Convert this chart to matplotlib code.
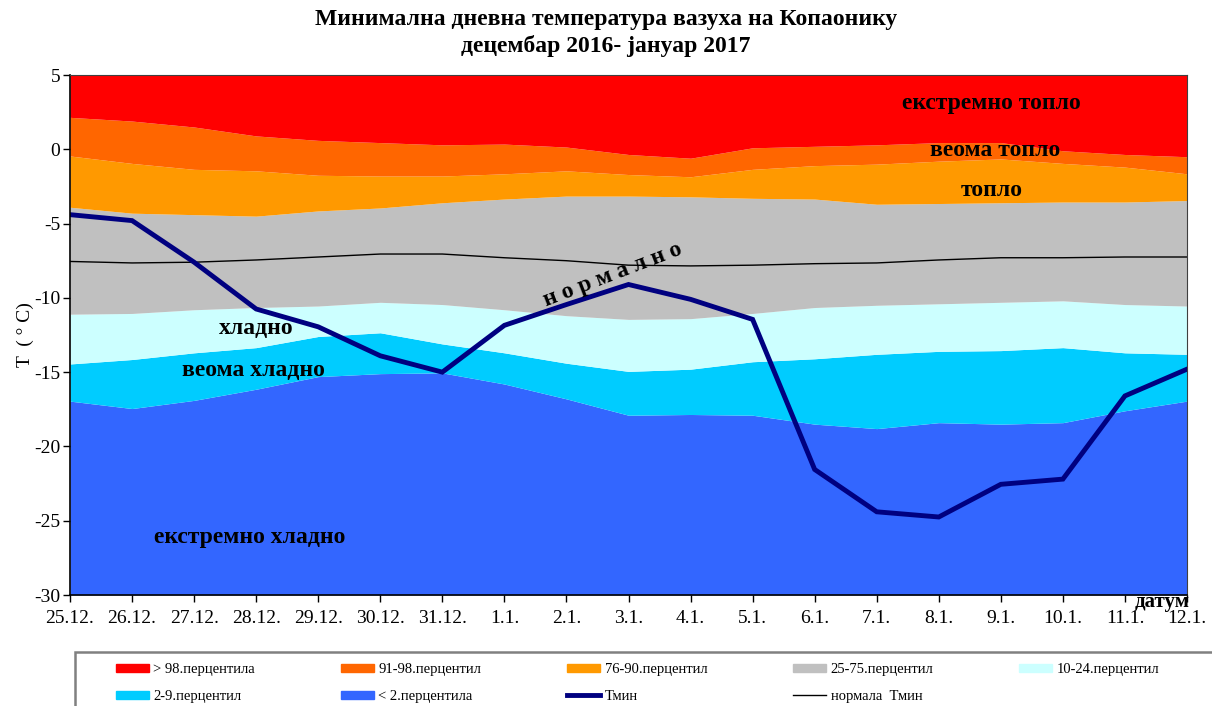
import numpy as np
import matplotlib
matplotlib.use("Agg")
import matplotlib.pyplot as plt
from matplotlib.patches import Patch, Rectangle
from matplotlib.lines import Line2D

plt.rcParams['font.family'] = ['Liberation Serif', 'DejaVu Serif']

dates = ["25.12.", "26.12.", "27.12.", "28.12.", "29.12.", "30.12.", "31.12.",
         "1.1.", "2.1.", "3.1.", "4.1.", "5.1.", "6.1.", "7.1.", "8.1.",
         "9.1.", "10.1.", "11.1.", "12.1."]

# percentile boundaries (°C)
p98 = [2.15, 1.9, 1.5, 0.9, 0.6, 0.45, 0.3, 0.35, 0.15, -0.35, -0.6, 0.1,
       0.2, 0.3, 0.45, 0.45, -0.1, -0.35, -0.5]
p90 = [-0.45, -0.95, -1.35, -1.45, -1.75, -1.8, -1.8, -1.65, -1.45, -1.7,
       -1.85, -1.35, -1.1, -1.0, -0.8, -0.65, -0.95, -1.2, -1.65]
p75 = [-3.9, -4.3, -4.4, -4.5, -4.15, -3.95, -3.6, -3.35, -3.15, -3.15,
       -3.2, -3.3, -3.35, -3.7, -3.65, -3.6, -3.55, -3.55, -3.45]
p25 = [-11.1, -11.05, -10.8, -10.65, -10.55, -10.3, -10.45, -10.8, -11.2,
       -11.45, -11.4, -11.05, -10.65, -10.5, -10.4, -10.3, -10.2, -10.45, -10.55]
p10 = [-14.45, -14.15, -13.7, -13.35, -12.6, -12.35, -13.1, -13.7, -14.4,
       -14.95, -14.8, -14.3, -14.1, -13.8, -13.6, -13.55, -13.35, -13.7, -13.8]
p2 = [-16.95, -17.45, -16.9, -16.15, -15.3, -15.1, -15.05, -15.8, -16.8,
      -17.9, -17.85, -17.9, -18.5, -18.8, -18.4, -18.5, -18.4, -17.6, -16.95]
normal = [-7.55, -7.65, -7.6, -7.45, -7.25, -7.05, -7.05, -7.3, -7.5, -7.8,
          -7.85, -7.8, -7.7, -7.65, -7.45, -7.3, -7.3, -7.25, -7.25]
tmin = [-4.4, -4.8, -7.6, -10.75, -11.95, -13.9, -15.0, -11.85, -10.45, -9.1,
        -10.1, -11.45, -21.55, -24.4, -24.75, -22.55, -22.2, -16.6, -14.8]

ymin, ymax = -30, 5
colors = ["#3366FF", "#00CCFF", "#CCFFFF", "#C0C0C0", "#FF9900", "#FF6600", "#FF0000"]
names = ["< 2.перцентила", "2-9.перцентил", "10-24.перцентил", "25-75.перцентил",
         "76-90.перцентил", "91-98.перцентил", "> 98.перцентила"]

x = np.arange(len(dates))
bounds = [np.full(len(x), ymin), p2, p10, p25, p75, p90, p98, np.full(len(x), ymax)]

fig = plt.figure(figsize=(12.12, 7.06), dpi=100)
ax = fig.add_axes([70 / 1212, 1 - 595 / 706, (1187 - 70) / 1212, (595 - 75) / 706])

for i, c in enumerate(colors):
    ax.fill_between(x, bounds[i], bounds[i + 1], color=c, linewidth=0)

ax.plot(x, normal, color="black", linewidth=1)
ax.plot(x, tmin, color="#000080", linewidth=3.5, solid_joinstyle="miter")

ax.set_xlim(0, len(x) - 1)
ax.set_ylim(ymin, ymax)
ax.set_xticks(x)
ax.set_xticklabels(dates, fontsize=14)
ax.set_yticks(np.arange(-30, 6, 5))
ax.set_yticklabels([str(v) for v in range(-30, 6, 5)], fontsize=14)
ax.tick_params(direction="out", length=5, width=1, pad=2)
ax.tick_params(axis="x", pad=6)
for s in ["left", "bottom"]:
    ax.spines[s].set_linewidth(1.2)
for s in ["top", "right"]:
    ax.spines[s].set_color("#404040")
    ax.spines[s].set_linewidth(0.8)
ax.set_ylabel("T  ( ° C)", fontsize=14, labelpad=0)

fig.text(0.5, 1 - 20 / 706, "Минимална дневна температура вазуха на Копаонику",
         ha="center", va="center", fontsize=17, fontweight="bold")
fig.text(0.5, 1 - 46 / 706, "децембар 2016- јануар 2017",
         ha="center", va="center", fontsize=17, fontweight="bold")

lbl = dict(fontsize=17, fontweight="bold", ha="center", va="center")
ax.text(14.85, 3.1, "екстремно топло", **lbl)
ax.text(14.9, -0.05, "веома топло", **lbl)
ax.text(14.85, -2.75, "топло", **lbl)
ax.text(3.0, -12.05, "хладно", **lbl)
ax.text(2.95, -14.9, "веома хладно", **lbl)
ax.text(2.9, -26.1, "екстремно хладно", **lbl)
ax.text(8.75, -8.45, "н о р м а л н о", fontsize=17, fontweight="bold",
        ha="center", va="center", rotation=21)
ax.text(17.6, -30.5, "датум", fontsize=15, fontweight="bold", ha="center", va="center")

# legend: row 1 = first five, row 2 = last four (matplotlib fills column-wise)
row1 = [Patch(color=colors[6], label=names[6]),
        Patch(color=colors[5], label=names[5]),
        Patch(color=colors[4], label=names[4]),
        Patch(color=colors[3], label=names[3]),
        Patch(color=colors[2], label=names[2])]
row2 = [Patch(color=colors[1], label=names[1]),
        Patch(color=colors[0], label=names[0]),
        Line2D([], [], color="#000080", linewidth=3.5, label="Тмин"),
        Line2D([], [], color="black", linewidth=1, label="нормала  Тмин")]
handles = []
for i in range(5):
    handles.append(row1[i])
    if i < len(row2):
        handles.append(row2[i])

fig.patches.append(Rectangle((75 / 1212, -0.02), 1.0, 1 - 652 / 706 + 0.02,
                             transform=fig.transFigure, fill=False,
                             edgecolor="#808080", linewidth=1.8))
fs = 10.5
leg = fig.legend(handles=handles, loc="upper left", ncol=5,
                 bbox_to_anchor=(116 / 1212, 1 - 663 / 706),
                 fontsize=fs, frameon=False, borderpad=0, borderaxespad=0,
                 handlelength=33 / (fs * 100 / 72), handleheight=0.5,
                 handletextpad=0.3, columnspacing=86 / (fs * 100 / 72),
                 labelspacing=0.95)

fig.savefig("out.png", dpi=100)
